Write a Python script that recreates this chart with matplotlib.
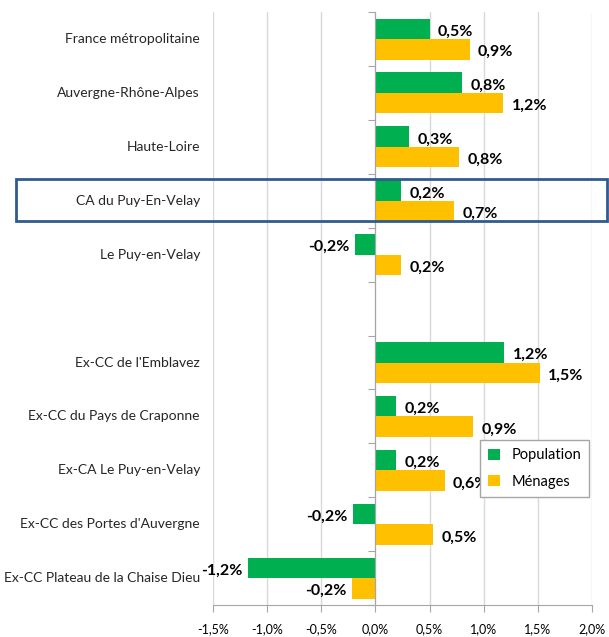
import matplotlib
matplotlib.use('Agg')
import matplotlib.pyplot as plt
from matplotlib.patches import Rectangle

plt.rcParams['font.family'] = ['Lato', 'DejaVu Sans']

categories = ['France métropolitaine', 'Auvergne-Rhône-Alpes', 'Haute-Loire',
              'CA du Puy-En-Velay', 'Le Puy-en-Velay',
              "Ex-CC de l'Emblavez", 'Ex-CC du Pays de Craponne', 'Ex-CA Le Puy-en-Velay',
              "Ex-CC des Portes d'Auvergne", 'Ex-CC Plateau de la Chaise Dieu']
slots = [0, 1, 2, 3, 4, 6, 7, 8, 9, 10]
population = [0.50, 0.80, 0.31, 0.24, -0.19, 1.19, 0.19, 0.19, -0.21, -1.18]
menages = [0.87, 1.18, 0.77, 0.73, 0.24, 1.52, 0.90, 0.64, 0.53, -0.22]
xticks = [-1.5, -1.0, -0.5, 0.0, 0.5, 1.0, 1.5, 2.0]

green = '#00B050'
yellow = '#FFC000'
h = 0.38

fig = plt.figure(figsize=(6.09, 6.37), dpi=100)
ax = fig.add_axes([0.35, 0.05, 0.622, 0.931])

yp = [s - h / 2 for s in slots]
ym = [s + h / 2 for s in slots]
ax.barh(yp, population, height=h, color=green, label='Population', zorder=2)
ax.barh(ym, menages, height=h, color=yellow, label='Ménages', zorder=2)

def fmt(v):
    return f'{v:.1f}%'.replace('.', ',')

for y, v in zip(yp + ym, population + menages):
    if v >= 0:
        ax.annotate(fmt(v), (v, y), xytext=(6, -2), textcoords='offset points',
                    ha='left', va='center', fontsize=11.5, fontweight='bold', zorder=3)
    else:
        ax.annotate(fmt(v), (v, y), xytext=(-4, -2), textcoords='offset points',
                    ha='right', va='center', fontsize=11.5, fontweight='bold', zorder=3)

ax.set_xlim(-1.5, 2.0)
ax.set_ylim(10.5, -0.5)
ax.set_xticks(xticks)
ax.set_xticklabels([f'{t:.1f}%'.replace('.', ',') for t in xticks], fontsize=9)
ax.xaxis.grid(True, color='#D9D9D9', lw=1, zorder=0)
ax.set_axisbelow(True)

ax.spines['top'].set_visible(False)
ax.spines['right'].set_visible(False)
ax.spines['left'].set_position(('data', 0))
ax.spines['left'].set_color('#A6A6A6')
ax.spines['bottom'].set_color('#A6A6A6')
ax.set_yticks([i - 0.5 for i in range(12)])
ax.set_yticklabels([])
ax.tick_params(axis='y', length=5, color='#A6A6A6')
ax.tick_params(axis='x', length=5, color='#A6A6A6', pad=8)

for s, c in zip(slots, categories):
    ax.text(-0.035, s, c, transform=ax.get_yaxis_transform(), ha='right', va='center',
            fontsize=10, color='#262626')

leg = ax.legend(loc='upper left', bbox_to_anchor=(0.704, 0.278), borderaxespad=0,
                fancybox=False, edgecolor='#A6A6A6', fontsize=10.5, handlelength=0.8,
                handleheight=0.8, framealpha=1, borderpad=0.55, labelspacing=0.85)
leg.set_zorder(5)

fig.patches.append(Rectangle((0.026, 0.653), 0.971, 0.066, transform=fig.transFigure,
                             fill=False, edgecolor='#2F5B8F', lw=2))

fig.savefig('out.png', dpi=100)
